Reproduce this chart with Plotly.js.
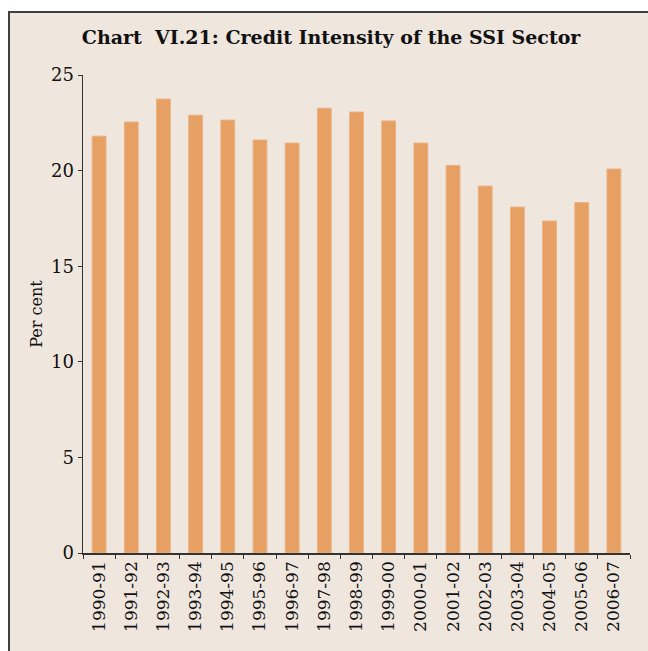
<!DOCTYPE html>
<html>
<head>
<meta charset="utf-8">
<script src="https://cdn.plot.ly/plotly-3.0.1.min.js"></script>
<style>
  html, body { margin: 0; padding: 0; background: #ffffff; width: 648px; height: 651px; overflow: hidden; }
  #bg { position: absolute; left: 8px; top: 11px; width: 700px; height: 700px; background: #EFE6DE; border-left: 2px solid #404040; border-top: 2px solid #404040; }
  #chart { position: absolute; left: 0; top: 0; width: 648px; height: 651px; }
</style>
</head>
<body>
<div id="bg"></div>
<div id="chart"></div>
<script>
const years = ["1990-91","1991-92","1992-93","1993-94","1994-95","1995-96","1996-97","1997-98","1998-99","1999-00","2000-01","2001-02","2002-03","2003-04","2004-05","2005-06","2006-07"];
const creditIntensity = [21.8, 22.54, 23.74, 22.9, 22.64, 21.6, 21.44, 23.26, 23.06, 22.6, 21.44, 20.27, 19.19, 18.09, 17.36, 18.33, 20.08];
const yTicks = [0, 5, 10, 15, 20, 25];

const serif = "DejaVu Serif, Liberation Serif, serif";

Plotly.newPlot("chart", [{
  type: "bar",
  x: years,
  y: creditIntensity,
  marker: { color: "#E6A064", line: { color: "#EBB283", width: 1 } },
  hoverinfo: "skip"
}], {
  width: 648, height: 651,
  paper_bgcolor: "rgba(0,0,0,0)",
  plot_bgcolor: "rgba(0,0,0,0)",
  margin: { l: 83, r: 18, t: 75, b: 98, pad: 0 },
  bargap: 0.57,
  showlegend: false,
  title: {
    text: "<b>Chart  VI.21: Credit Intensity of the SSI Sector</b>",
    font: { family: serif, size: 19, color: "#111" },
    x: 0.511, xref: "container", xanchor: "center",
    y: 0.942, yref: "container", yanchor: "middle"
  },
  xaxis: {
    type: "category",
    tickangle: -90,
    tickson: "boundaries",
    ticks: "outside", ticklen: 4, tickcolor: "#333",
    showline: true, linecolor: "#333", linewidth: 1.5,
    showgrid: false, zeroline: false,
    tickfont: { family: serif, size: 17, color: "#111" }
  },
  yaxis: {
    range: [0, 25],
    tickvals: yTicks,
    ticks: "outside", ticklen: 4, tickcolor: "#333",
    showline: true, linecolor: "#333", linewidth: 1.5,
    showgrid: false, zeroline: false,
    tickfont: { family: serif, size: 18, color: "#111" },
    title: { text: "Per cent", font: { family: serif, size: 16, color: "#111" }, standoff: 4 }
  }
}, { staticPlot: true });
</script>
</body>
</html>
